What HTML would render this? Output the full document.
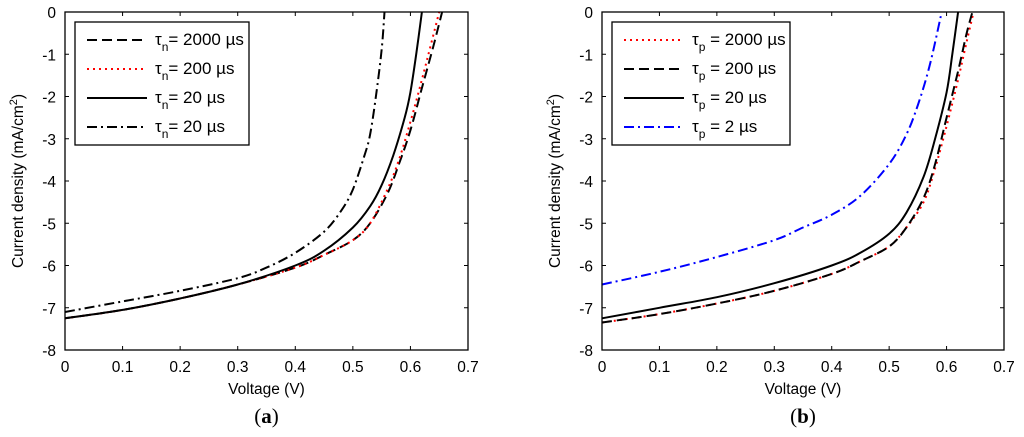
<!DOCTYPE html>
<html><head><meta charset="utf-8"><style>
body{margin:0;background:#fff;}
svg{display:block;font-family:"Liberation Sans",sans-serif;}
</style></head><body>
<svg id="fig" width="1024" height="437" viewBox="0 0 1024 437"></svg>
<script>
const xTicks=[0,0.1,0.2,0.3,0.4,0.5,0.6,0.7];
const yTicks=[0,-1,-2,-3,-4,-5,-6,-7,-8];
const aV2000=[0,0.1,0.2,0.3,0.4,0.45,0.5,0.53,0.56,0.58,0.6,0.62,0.64,0.655];
const aJ2000=[-7.25,-7.05,-6.78,-6.45,-6.05,-5.75,-5.4,-5.0,-4.3,-3.6,-2.8,-1.8,-0.8,0];
const aV200=[0,0.1,0.2,0.3,0.4,0.45,0.5,0.53,0.56,0.58,0.6,0.62,0.635,0.65];
const aJ200=[-7.25,-7.05,-6.78,-6.45,-6.05,-5.75,-5.4,-5.0,-4.2,-3.5,-2.6,-1.6,-0.8,0];
const aV20=[0,0.1,0.2,0.3,0.4,0.45,0.5,0.53,0.55,0.57,0.59,0.6,0.61,0.62];
const aJ20=[-7.25,-7.05,-6.78,-6.45,-6.0,-5.65,-5.1,-4.6,-4.1,-3.4,-2.5,-1.9,-1.0,0];
const aV2=[0,0.1,0.2,0.3,0.35,0.4,0.45,0.48,0.5,0.52,0.53,0.54,0.55,0.555];
const aJ2=[-7.1,-6.85,-6.6,-6.3,-6.05,-5.7,-5.2,-4.7,-4.2,-3.4,-2.9,-2.0,-0.9,0];
const bV2000=[0,0.1,0.2,0.3,0.4,0.45,0.5,0.53,0.56,0.58,0.6,0.62,0.635,0.645];
const bJ2000=[-7.35,-7.15,-6.9,-6.6,-6.2,-5.9,-5.55,-5.1,-4.4,-3.6,-2.5,-1.4,-0.5,0];
const bV200=[0,0.1,0.2,0.3,0.4,0.45,0.5,0.53,0.56,0.58,0.6,0.62,0.635,0.647];
const bJ200=[-7.35,-7.15,-6.9,-6.6,-6.2,-5.9,-5.55,-5.1,-4.5,-3.7,-2.7,-1.6,-0.7,0];
const bV20=[0,0.1,0.2,0.3,0.4,0.45,0.5,0.53,0.56,0.58,0.6,0.61,0.62];
const bJ20=[-7.25,-7.0,-6.75,-6.42,-6.0,-5.7,-5.25,-4.75,-3.9,-3.0,-1.9,-1.0,0];
const bV2=[0,0.1,0.2,0.3,0.35,0.4,0.45,0.5,0.53,0.55,0.57,0.59];
const bJ2=[-6.45,-6.15,-5.8,-5.4,-5.1,-4.8,-4.35,-3.6,-2.9,-2.2,-1.3,-0.1];

const NS="http://www.w3.org/2000/svg";
const svg=document.getElementById('fig');
function mk(tag,attrs,parent){const e=document.createElementNS(NS,tag);for(const k in attrs)e.setAttribute(k,attrs[k]);(parent||svg).appendChild(e);return e;}
const styles={dash:{stroke:'#000',da:'10,5',w:2},dot:{stroke:'#f00',da:'2,4',w:2},solid:{stroke:'#000',da:'none',w:2},dashdot:{stroke:'#000',da:'10,4,2,4',w:2},bluedd:{stroke:'#00f',da:'10,4,2,4',w:2}};
function smooth(pts){
  let d='M'+pts[0][0].toFixed(1)+','+pts[0][1].toFixed(1);
  for(let i=0;i<pts.length-1;i++){
    const p0=pts[Math.max(i-1,0)],p1=pts[i],p2=pts[i+1],p3=pts[Math.min(i+2,pts.length-1)];
    const c1=[p1[0]+(p2[0]-p0[0])/6,p1[1]+(p2[1]-p0[1])/6];
    const c2=[p2[0]-(p3[0]-p1[0])/6,p2[1]-(p3[1]-p1[1])/6];
    d+=' C'+c1.map(v=>v.toFixed(1)).join(',')+' '+c2.map(v=>v.toFixed(1)).join(',')+' '+p2.map(v=>v.toFixed(1)).join(',');
  }
  return d;
}
function panel(id,x0,x1,y0,y1,series,legend,sub,letter,tau){
  const g=mk('g',{});
  
  
  const sx=v=>x0+(v-0)/(0.7)*(x1-x0);
  const sy=v=>y0+(0-v)/8*(y1-y0);
  series.forEach(s=>{const st=styles[s.style];
    const d=smooth(s.v.map((v,i)=>[sx(v),sy(s.j[i])]));
    const p=mk('path',{d:d,fill:'none',stroke:st.stroke,'stroke-width':st.w,'stroke-dasharray':st.da,'stroke-linejoin':'round'},g);
    });
  const frame=mk('rect',{x:x0,y:y0,width:x1-x0,height:y1-y0,fill:'none',stroke:'#000','stroke-width':1.3},g);
  
  xTicks.forEach(t=>{const X=sx(t);
    mk('line',{x1:X,y1:y1,x2:X,y2:y1-4,stroke:'#000'},g);mk('line',{x1:X,y1:y0,x2:X,y2:y0+4,stroke:'#000'},g);
    const tx=mk('text',{x:X,y:y1+22,'font-size':15.5,'text-anchor':'middle'},g);tx.textContent=String(t);
    });
  yTicks.forEach(t=>{const Y=sy(t);
    mk('line',{x1:x0,y1:Y,x2:x0+4,y2:Y,stroke:'#000'},g);mk('line',{x1:x1,y1:Y,x2:x1-4,y2:Y,stroke:'#000'},g);
    const tx=mk('text',{x:x0-9,y:Y+6,'font-size':15.5,'text-anchor':'end'},g);tx.textContent=String(t);
    });
  const xl=mk('text',{x:(x0+x1)/2,y:y1+44,'font-size':15.5,'text-anchor':'middle'},g);xl.textContent='Voltage (V)';
  
  const yl=mk('text',{x:0,y:0,'font-size':15.5,'text-anchor':'middle',transform:`translate(${x0-42},${(y0+y1)/2}) rotate(-90)`},g);
  yl.innerHTML='Current density (mA/cm<tspan dy="-6" font-size="11">2</tspan><tspan dy="6">)</tspan>';
  
  const lg=mk('g',{},g);
  
  mk('rect',{x:legend[0],y:22,width:legend[1],height:123,fill:'#fff',stroke:'#000','stroke-width':1.3},lg);
  series.forEach((s,i)=>{const st=styles[s.style];const Y=40+i*29;
    mk('line',{x1:legend[0]+12,y1:Y,x2:legend[0]+72,y2:Y,stroke:st.stroke,'stroke-width':st.w,'stroke-dasharray':st.da},lg);
    const t=mk('text',{x:legend[0]+80,y:Y+5,'font-size':17},lg);
    t.innerHTML='τ<tspan dy="6" font-size="12">'+tau+'</tspan><tspan dy="-6">'+s.label+'</tspan>';
    });
  const c=mk('text',{x:(x0+x1)/2,y:423,'font-size':21,'text-anchor':'middle','font-family':'Liberation Serif, serif'},g);
  c.innerHTML='(<tspan font-weight="bold">'+letter+'</tspan>)';
  
}
panel('panel-a',65,468,12,350,[
 {v:aV2000,j:aJ2000,style:'dash',label:'= 2000 µs',name:'series-2000us'},
 {v:aV200,j:aJ200,style:'dot',label:'= 200 µs',name:'series-200us'},
 {v:aV20,j:aJ20,style:'solid',label:'= 20 µs',name:'series-20us'},
 {v:aV2,j:aJ2,style:'dashdot',label:'= 20 µs',name:'series-2us'}],[75,174],'caption-a','a','n');
panel('panel-b',602,1004,12,350,[
 {v:bV200,j:bJ200,style:'dot',label:' = 2000 µs',name:'series-2000us'},
 {v:bV2000,j:bJ2000,style:'dash',label:' = 200 µs',name:'series-200us'},
 {v:bV20,j:bJ20,style:'solid',label:' = 20 µs',name:'series-20us'},
 {v:bV2,j:bJ2,style:'bluedd',label:' = 2 µs',name:'series-2us'}],[612,178],'caption-b','b','p');
</script>
</body></html>
